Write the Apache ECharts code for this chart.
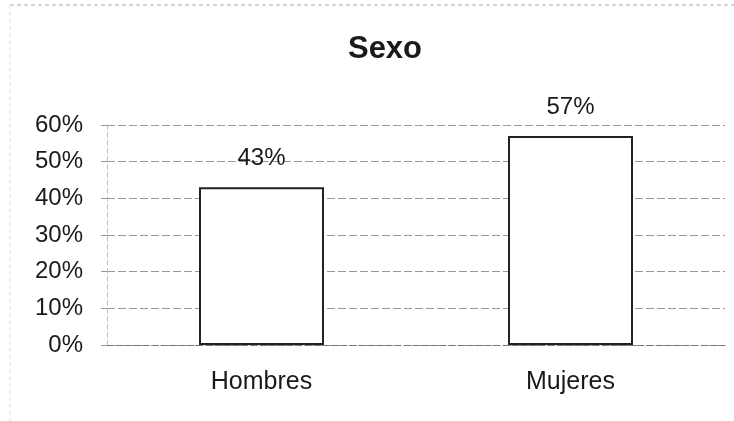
<!DOCTYPE html>
<html>
<head>
<meta charset="utf-8">
<style>
  html, body { margin: 0; padding: 0; background: #fff; }
  #chart { width: 734px; height: 421px; }
</style>
<script src="https://cdn.jsdelivr.net/npm/echarts@6/dist/echarts.min.js"></script>
</head>
<body>
<div id="chart"></div>
<script>
// datos del gráfico
const categorias = ['Hombres', 'Mujeres'];
const valores = [43, 57];
const ticksY = [0, 10, 20, 30, 40, 50, 60];

const chart = echarts.init(document.getElementById('chart'));
const fuente = '"Liberation Sans", Arial, sans-serif';

chart.setOption({
  animation: false,
  backgroundColor: '#fff',
  title: {
    text: 'Sexo',
    left: 380,
    top: 29,
    textAlign: 'center',
    textStyle: {
      fontFamily: fuente,
      fontSize: 31,
      fontWeight: 'bold',
      color: '#1a1a1a'
    }
  },
  graphic: [{
    type: 'line',
    shape: { x1: 10, y1: 5, x2: 734, y2: 5 },
    style: { stroke: '#aaa', lineWidth: 1, lineDash: [4, 3] }
  }, {
    type: 'line',
    shape: { x1: 10, y1: 5, x2: 10, y2: 421 },
    style: { stroke: '#ddd', lineWidth: 1, lineDash: [4, 3] }
  }],
  grid: {
    left: 107,
    right: 9,
    top: 125,
    bottom: 76,
    containLabel: false
  },
  xAxis: {
    type: 'category',
    data: categorias,
    axisLine: { show: true, lineStyle: { color: '#777', type: [6, 3] } },
    axisTick: { show: false },
    axisLabel: {
      margin: 25,
      fontFamily: fuente,
      fontSize: 25,
      color: '#1a1a1a'
    }
  },
  yAxis: {
    type: 'value',
    min: 0,
    max: 60,
    interval: 10,
    axisLine: { show: true, lineStyle: { color: '#bbb', type: [4, 4] } },
    axisTick: { show: true, length: 6, lineStyle: { color: '#999' } },
    splitLine: { show: true, lineStyle: { color: '#999', type: [8, 3] } },
    axisLabel: {
      margin: 24,
      fontFamily: fuente,
      fontSize: 24,
      color: '#1a1a1a',
      formatter: v => ticksY.includes(v) ? v + '%' : ''
    }
  },
  series: [{
    type: 'bar',
    data: valores,
    barWidth: 125,
    itemStyle: {
      color: '#fff',
      borderColor: '#222',
      borderWidth: 2
    },
    label: {
      show: true,
      position: 'top',
      distance: 17,
      formatter: p => p.value + '%',
      fontFamily: fuente,
      fontSize: 24,
      color: '#1a1a1a'
    }
  }]
});
</script>
</body>
</html>
